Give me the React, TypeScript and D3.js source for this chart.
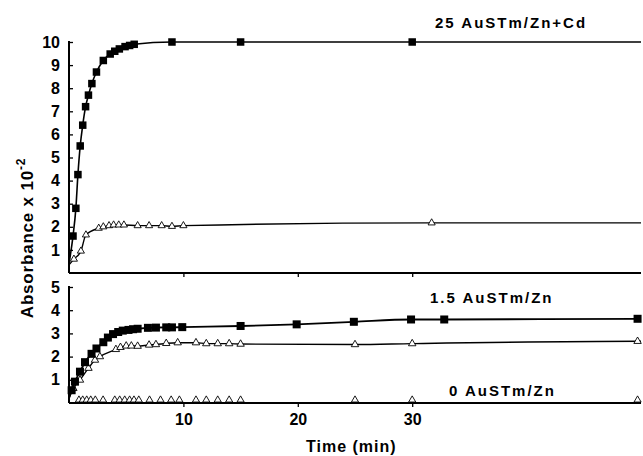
import React, { useEffect, useRef } from "react";
import * as d3 from "d3";

// 25 AuSTm/Zn+Cd, filled squares (top panel)
const cdSquaresT = [0, 0.35, 0.6, 0.78, 0.98, 1.2, 1.45, 1.7, 2.0, 2.4, 3.0, 3.6, 4.0, 4.4, 4.9, 5.3, 5.7, 9, 15, 30];
const cdSquaresV = [0.4, 1.6, 2.8, 4.26, 5.5, 6.4, 7.2, 7.7, 8.2, 8.7, 9.2, 9.48, 9.6, 9.7, 9.8, 9.85, 9.9, 10, 10, 10];

// open triangles (top panel)
const cdTrianglesT = [0, 0.43, 1.04, 1.48, 2.6, 3.0, 3.5, 3.9, 4.35, 4.8, 6.0, 7.0, 8.1, 9.0, 10.0, 31.7];
const cdTrianglesV = [0.35, 0.6, 0.95, 1.65, 1.94, 2.0, 2.05, 2.08, 2.08, 2.08, 2.05, 2.05, 2.05, 2.02, 2.05, 2.17];

// 1.5 AuSTm/Zn, filled squares (bottom panel)
const znSquaresT = [0, 0.23, 0.52, 0.96, 1.4, 1.97, 2.4, 3.0, 3.4, 3.85, 4.3, 4.7, 5.2, 5.6, 6.0, 6.9, 7.6, 8.5, 9.0, 9.9, 15, 19.9, 24.9, 29.9, 32.8, 49.7];
const znSquaresV = [0.2, 0.55, 0.92, 1.35, 1.76, 2.12, 2.35, 2.62, 2.82, 2.97, 3.06, 3.12, 3.15, 3.18, 3.2, 3.24, 3.25, 3.26, 3.26, 3.27, 3.32, 3.39, 3.5, 3.6, 3.6, 3.63];

// open triangles (bottom panel, middle)
const znTrianglesT = [0, 0.38, 0.96, 1.7, 2.27, 2.7, 4.1, 4.5, 5.0, 5.45, 6.0, 7.0, 7.6, 8.5, 9.5, 11.1, 12, 13, 14, 15, 25, 30, 49.7];
const znTrianglesV = [0.2, 0.63, 0.99, 1.5, 1.85, 2.0, 2.31, 2.4, 2.46, 2.46, 2.45, 2.5, 2.52, 2.57, 2.6, 2.6, 2.56, 2.56, 2.56, 2.54, 2.52, 2.56, 2.66];

// 0 AuSTm/Zn, open triangles on the baseline
const zeroT = [0.87, 1.2, 1.55, 1.9, 2.3, 2.98, 4.0, 4.43, 4.87, 5.3, 5.68, 6.1, 7.04, 8.0, 8.93, 9.65, 11.1, 12.0, 13.0, 14.0, 15.0, 25, 30, 49.7];
const zeroV = [0.13, 0.13, 0.13, 0.13, 0.13, 0.13, 0.13, 0.13, 0.13, 0.13, 0.13, 0.13, 0.13, 0.13, 0.13, 0.13, 0.13, 0.13, 0.13, 0.13, 0.13, 0.13, 0.13, 0.13];

const topTicks = [1, 2, 3, 4, 5, 6, 7, 8, 9, 10];
const bottomTicks = [1, 2, 3, 4, 5];
const timeTicks = [10, 20, 30];

const FONT = "'Liberation Sans', Arial, Helvetica, sans-serif";

export default function App() {
  const svgRef = useRef<SVGSVGElement>(null);

  useEffect(() => {
    if (!svgRef.current) return;
    const svg = d3.select(svgRef.current);
    svg.selectAll("*").remove();

    const x = d3.scaleLinear().domain([0, 50]).range([69, 641]);
    const yTop = d3.scaleLinear().domain([0, 10]).range([273, 42]);
    const yBot = d3.scaleLinear().domain([0, 5]).range([403, 287]);

    const zip = (t: number[], v: number[]) => t.map((d, i) => [d, v[i]] as [number, number]);

    // axes
    const axisStyle = (g: any) => {
      g.select(".domain").remove();
      g.selectAll("line").attr("stroke", "#000").attr("stroke-width", 1.3);
      g.selectAll("text")
        .attr("font-family", FONT)
        .attr("font-weight", "bold")
        .attr("font-size", 16)
        .attr("fill", "#000");
    };

    const leftTop = svg
      .append("g")
      .attr("transform", "translate(69,0)")
      .call(d3.axisLeft(yTop).tickValues(topTicks).tickSize(-4).tickPadding(9).tickFormat(d3.format("d")));
    axisStyle(leftTop);

    const leftBot = svg
      .append("g")
      .attr("transform", "translate(69,0)")
      .call(d3.axisLeft(yBot).tickValues(bottomTicks).tickSize(-4).tickPadding(9).tickFormat(d3.format("d")));
    axisStyle(leftBot);

    const midAxis = svg
      .append("g")
      .attr("transform", "translate(0,273)")
      .call(d3.axisBottom(x).tickValues(timeTicks).tickSize(4).tickFormat(() => ""));
    axisStyle(midAxis);

    const botAxis = svg
      .append("g")
      .attr("transform", "translate(0,403)")
      .call(d3.axisBottom(x).tickValues(timeTicks).tickSize(4).tickPadding(7).tickFormat(d3.format("d")));
    axisStyle(botAxis);

    // frame lines
    const frame = svg.append("g").attr("stroke", "#000").attr("stroke-width", 2).attr("fill", "none");
    frame.append("line").attr("x1", 69).attr("x2", 69).attr("y1", yTop(10) - 1).attr("y2", yTop(0));
    frame.append("line").attr("x1", 69).attr("x2", 641).attr("y1", yTop(0)).attr("y2", yTop(0));
    frame.append("line").attr("x1", 69).attr("x2", 69).attr("y1", yBot(5) - 1).attr("y2", yBot(0));
    frame.append("line").attr("x1", 69).attr("x2", 641).attr("y1", yBot(0)).attr("y2", yBot(0));

    const drawSeries = (
      data: [number, number][],
      y: d3.ScaleLinear<number, number>,
      marker: "square" | "triangle",
      opts: { line: boolean; extend: boolean; skipFirst: boolean; size: number; width: number }
    ) => {
      if (opts.line) {
        const pts = opts.extend ? [...data, [50, data[data.length - 1][1]] as [number, number]] : data;
        const line = d3
          .line<[number, number]>()
          .x((d) => x(d[0]))
          .y((d) => y(d[1]))
          .curve(d3.curveMonotoneX);
        svg
          .append("path")
          .datum(pts)
          .attr("fill", "none")
          .attr("stroke", "#000")
          .attr("stroke-width", opts.width)
          .attr("d", line);
      }
      const mk = opts.skipFirst ? data.slice(1) : data;
      if (marker === "square") {
        svg
          .append("g")
          .selectAll("rect")
          .data(mk)
          .join("rect")
          .attr("x", (d) => x(d[0]) - opts.size / 2)
          .attr("y", (d) => y(d[1]) - opts.size / 2)
          .attr("width", opts.size)
          .attr("height", opts.size)
          .attr("fill", "#000");
      } else {
        const tri = d3.symbol().type(d3.symbolTriangle).size(opts.size);
        svg
          .append("g")
          .selectAll("path")
          .data(mk)
          .join("path")
          .attr("transform", (d) => `translate(${x(d[0])},${y(d[1])})`)
          .attr("d", tri() as string)
          .attr("fill", "#fff")
          .attr("stroke", "#000")
          .attr("stroke-width", 0.9);
      }
    };

    drawSeries(zip(cdTrianglesT, cdTrianglesV), yTop, "triangle", { line: true, extend: true, skipFirst: true, size: 22, width: 1.4 });
    drawSeries(zip(cdSquaresT, cdSquaresV), yTop, "square", { line: true, extend: true, skipFirst: true, size: 7.5, width: 1.6 });
    drawSeries(zip(znTrianglesT, znTrianglesV), yBot, "triangle", { line: true, extend: true, skipFirst: true, size: 24, width: 1.4 });
    drawSeries(zip(znSquaresT, znSquaresV), yBot, "square", { line: true, extend: true, skipFirst: true, size: 8, width: 1.8 });
    drawSeries(zip(zeroT, zeroV), yBot, "triangle", { line: false, extend: false, skipFirst: false, size: 22, width: 1.2 });

    // labels
    const label = (txt: string, lx: number, ly: number, size: number, spacing: number) =>
      svg
        .append("text")
        .attr("x", lx)
        .attr("y", ly)
        .attr("font-family", FONT)
        .attr("font-weight", "bold")
        .attr("font-size", size)
        .attr("letter-spacing", spacing)
        .attr("fill", "#000")
        .text(txt);

    label("25 AuSTm/Zn+Cd", 435, 28, 15, 2);
    label("1.5 AuSTm/Zn", 430, 303, 15, 2);
    label("0 AuSTm/Zn", 449, 396, 15, 2);
    label("Time (min)", 306, 452, 16, 1);

    const yl = svg
      .append("text")
      .attr("transform", "translate(33,238) rotate(-90)")
      .attr("text-anchor", "middle")
      .attr("font-family", FONT)
      .attr("font-weight", "bold")
      .attr("font-size", 17)
      .attr("letter-spacing", 0.8)
      .attr("fill", "#000");
    yl.append("tspan").text("Absorbance x 10");
    yl.append("tspan").attr("font-size", 12).attr("dy", -8).text("-2");
  }, []);

  return (
    <svg
      ref={svgRef}
      width={643}
      height={456}
      style={{ position: "absolute", left: 0, top: 0, background: "#fff" }}
    />
  );
}
